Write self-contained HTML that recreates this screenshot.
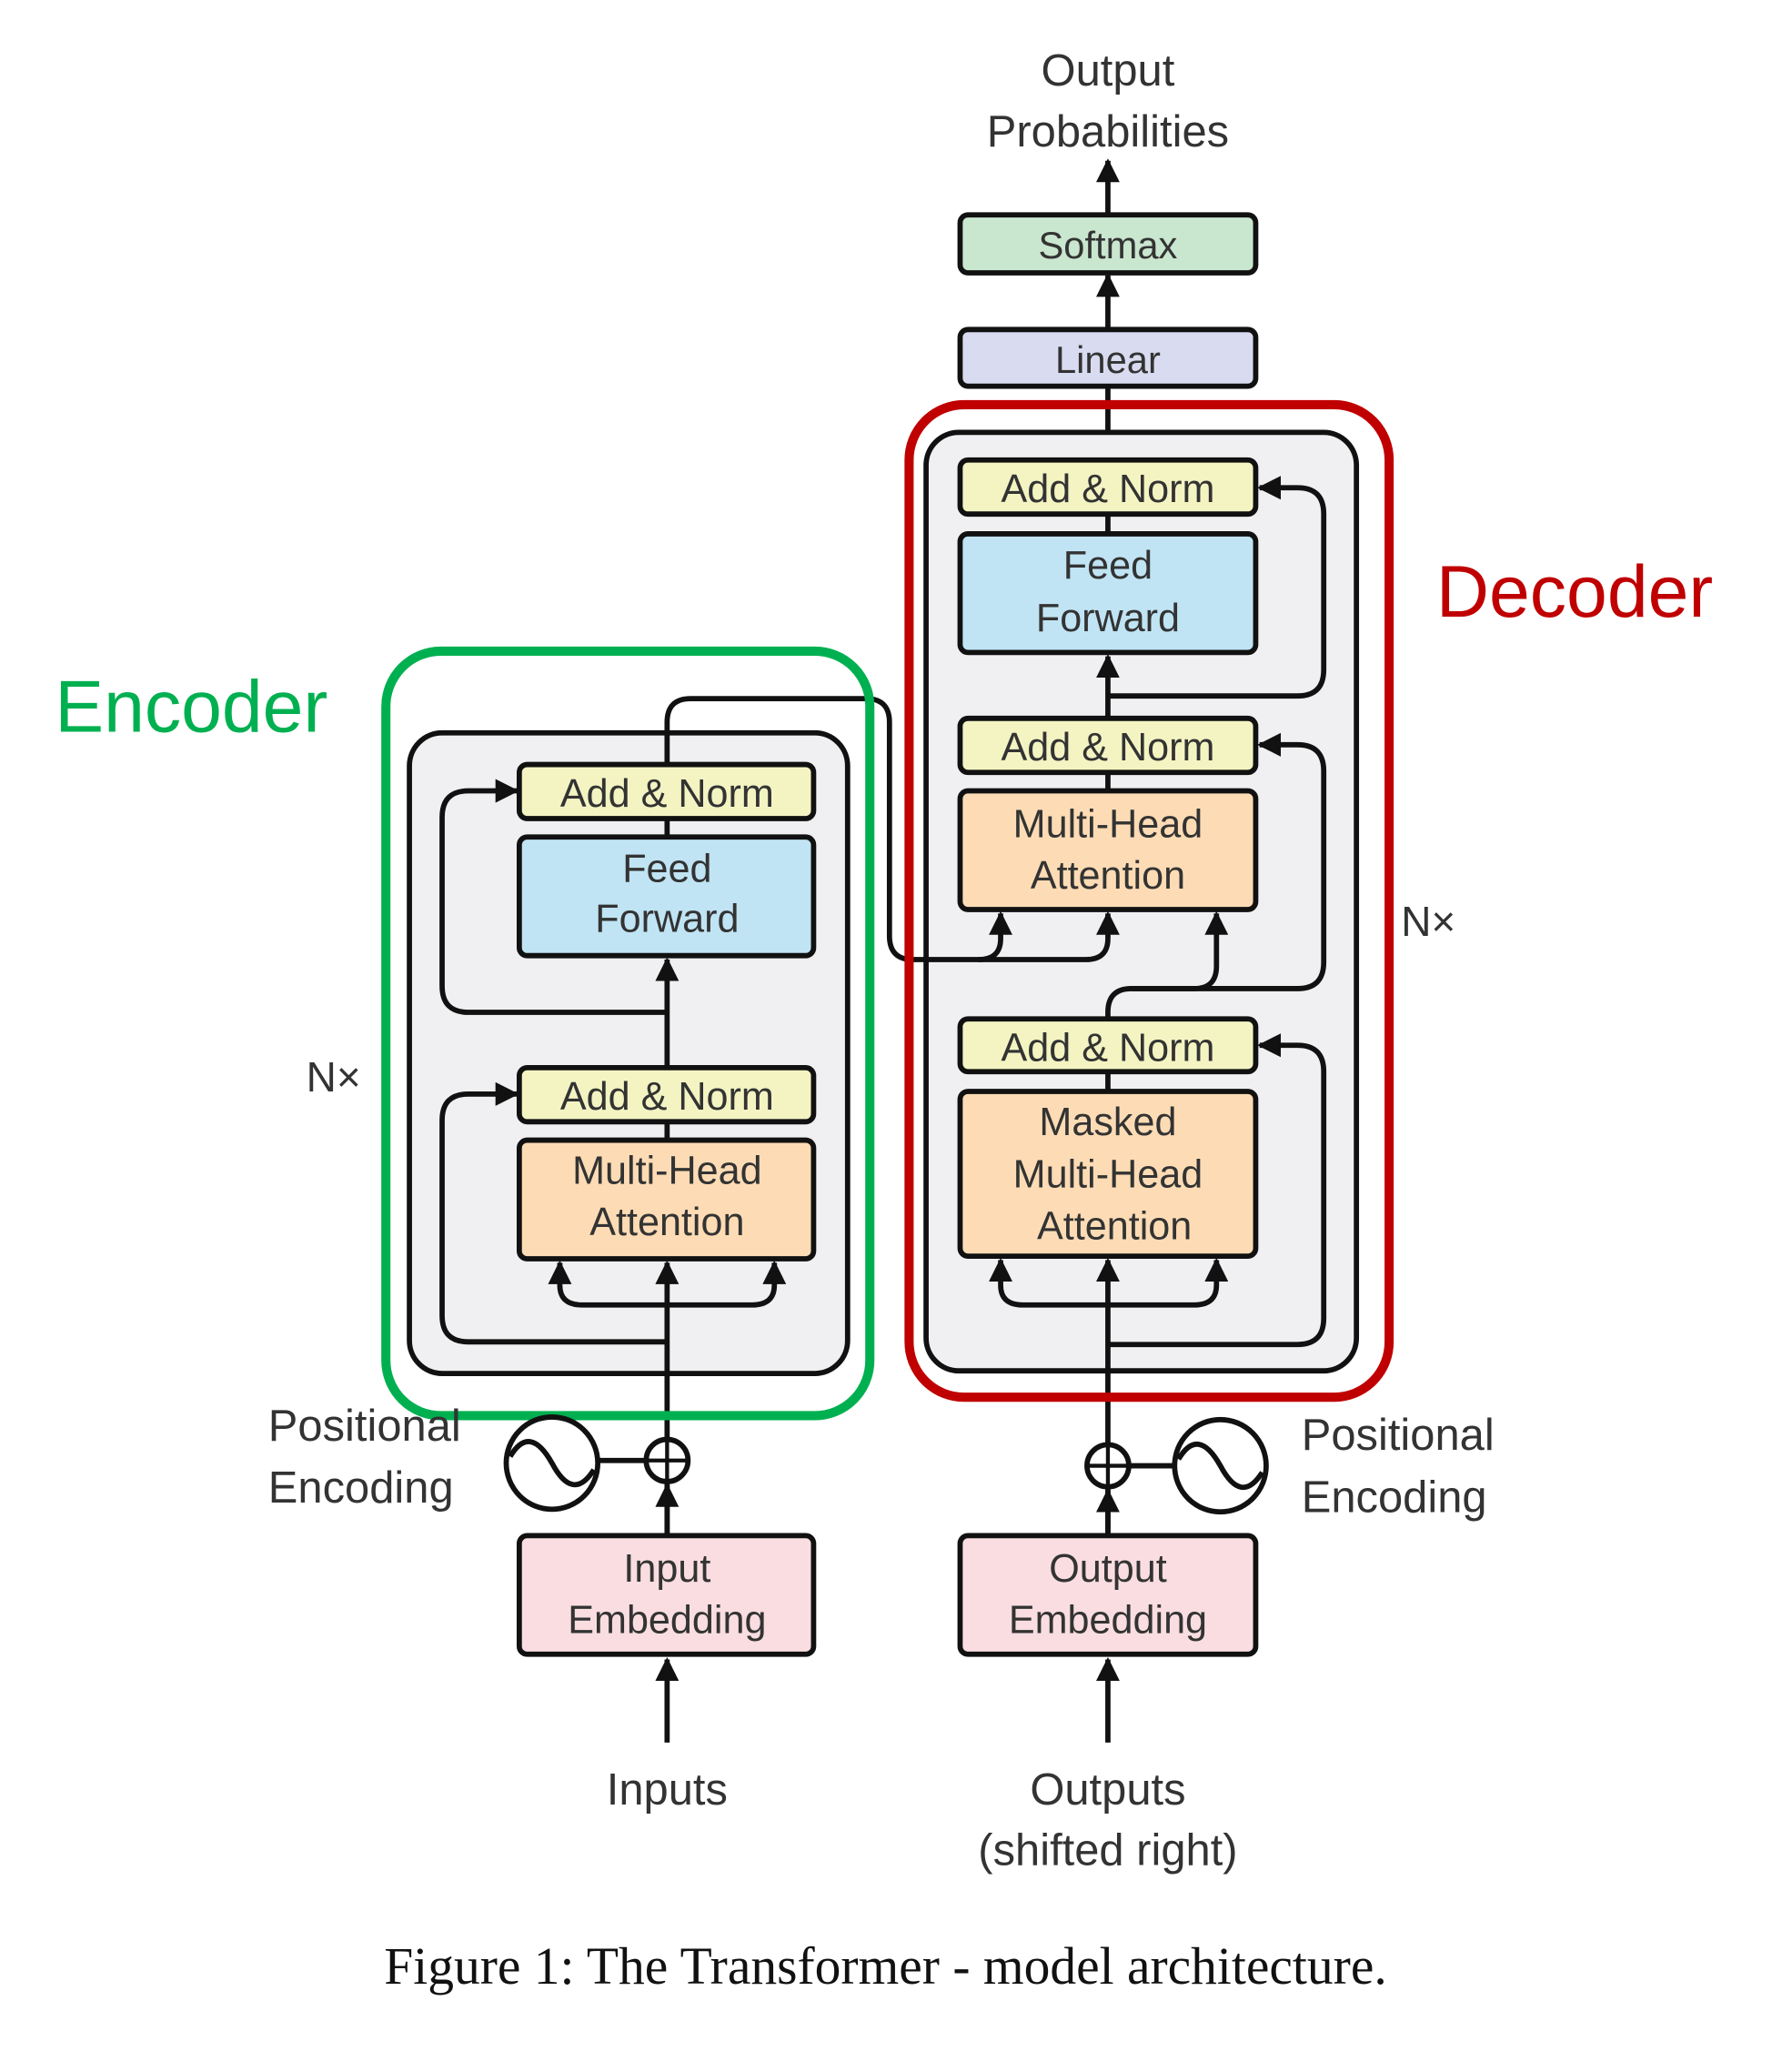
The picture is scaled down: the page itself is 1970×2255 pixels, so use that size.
<!DOCTYPE html>
<html><head><meta charset="utf-8"><style>
html,body{margin:0;padding:0;background:#fff;}
svg{display:block;}
text{font-family:"Liberation Sans",sans-serif;fill:#333;}
.b{stroke:#111;stroke-width:4;}
.l{stroke:#111;stroke-width:4;fill:none;}
</style></head><body>
<svg width="1970" height="2255" viewBox="0 0 1370 1556" preserveAspectRatio="none" xmlns="http://www.w3.org/2000/svg">
<defs>
<marker id="a" viewBox="0 0 10 10" refX="9" refY="5" markerWidth="4.5" markerHeight="4.5" orient="auto"><path d="M0,0 L10,5 L0,10 z" fill="#111"/></marker>
</defs>
<text x="847" y="65" font-size="34" text-anchor="middle">Output</text>
<text x="847" y="111" font-size="34" text-anchor="middle">Probabilities</text>
<line class="l" x1="847" y1="163" x2="847" y2="122" marker-end="url(#a)"/>
<rect class="b" x="734" y="163" width="226" height="44" rx="6" fill="#c9e6cf"/>
<text x="847" y="196" font-size="29" text-anchor="middle">Softmax</text>
<line class="l" x1="847" y1="250" x2="847" y2="209" marker-end="url(#a)"/>
<rect class="b" x="734" y="250" width="226" height="43" rx="6" fill="#d9dbf0"/>
<text x="847" y="283" font-size="29" text-anchor="middle">Linear</text>
<line class="l" x1="847" y1="293" x2="847" y2="349"/>

<rect class="b" x="708" y="328" width="329" height="712" rx="25" fill="#f0f0f2"/>
<rect class="b" x="313" y="556" width="335" height="486" rx="25" fill="#f0f0f2"/>

<line class="l" x1="510" y1="1165" x2="510" y2="958" marker-end="url(#a)"/>
<path class="l" d="M510,990 H445 Q428,990 428,975 V958" marker-end="url(#a)"/>
<path class="l" d="M510,990 H575 Q592,990 592,975 V958" marker-end="url(#a)"/>
<path class="l" d="M510,1018 H358 Q338,1018 338,998 V850 Q338,830 358,830 H395" marker-end="url(#a)"/>
<line class="l" x1="510" y1="810" x2="510" y2="728" marker-end="url(#a)"/>
<path class="l" d="M510,768 H358 Q338,768 338,748 V620 Q338,600 358,600 H395" marker-end="url(#a)"/>
<path class="l" d="M510,580 V548 Q510,530 528,530 H662 Q680,530 680,548 V710 Q680,728 698,728 H748 Q765,728 765,712 V693" marker-end="url(#a)"/>
<path class="l" d="M748,728 H830 Q847,728 847,712 V693" marker-end="url(#a)"/>

<line class="l" x1="847" y1="1165" x2="847" y2="956" marker-end="url(#a)"/>
<path class="l" d="M847,990 H782 Q765,990 765,975 V956" marker-end="url(#a)"/>
<path class="l" d="M847,990 H913 Q930,990 930,975 V956" marker-end="url(#a)"/>
<path class="l" d="M847,1020 H992 Q1012,1020 1012,1000 V813 Q1012,793 992,793 H963" marker-end="url(#a)"/>
<path class="l" d="M847,773 V768 Q847,750 865,750 H913 Q930,750 930,733 V693" marker-end="url(#a)"/>
<path class="l" d="M865,750 H992 Q1012,750 1012,730 V585 Q1012,565 992,565 H963" marker-end="url(#a)"/>
<line class="l" x1="847" y1="545" x2="847" y2="498" marker-end="url(#a)"/>
<path class="l" d="M847,528 H992 Q1012,528 1012,508 V390 Q1012,370 992,370 H963" marker-end="url(#a)"/>
<line class="l" x1="847" y1="586" x2="847" y2="600"/>
<line class="l" x1="847" y1="390" x2="847" y2="405"/>
<line class="l" x1="847" y1="813" x2="847" y2="828"/>
<line class="l" x1="510" y1="621" x2="510" y2="635"/>
<line class="l" x1="510" y1="851" x2="510" y2="865"/>

<rect class="b" x="397" y="580" width="225" height="41" rx="6" fill="#f3f4c2"/>
<text x="510" y="612" font-size="30" text-anchor="middle">Add &amp; Norm</text>
<rect class="b" x="397" y="635" width="225" height="90" rx="6" fill="#c0e4f4"/>
<text x="510" y="669" font-size="30" text-anchor="middle">Feed</text>
<text x="510" y="707" font-size="30" text-anchor="middle">Forward</text>
<rect class="b" x="397" y="810" width="225" height="41" rx="6" fill="#f3f4c2"/>
<text x="510" y="842" font-size="30" text-anchor="middle">Add &amp; Norm</text>
<rect class="b" x="397" y="865" width="225" height="90" rx="6" fill="#fddcb5"/>
<text x="510" y="898" font-size="30" text-anchor="middle">Multi-Head</text>
<text x="510" y="937" font-size="30" text-anchor="middle">Attention</text>

<rect class="b" x="734" y="349" width="226" height="41" rx="6" fill="#f3f4c2"/>
<text x="847" y="381" font-size="30" text-anchor="middle">Add &amp; Norm</text>
<rect class="b" x="734" y="405" width="226" height="90" rx="6" fill="#c0e4f4"/>
<text x="847" y="439" font-size="30" text-anchor="middle">Feed</text>
<text x="847" y="479" font-size="30" text-anchor="middle">Forward</text>
<rect class="b" x="734" y="545" width="226" height="41" rx="6" fill="#f3f4c2"/>
<text x="847" y="577" font-size="30" text-anchor="middle">Add &amp; Norm</text>
<rect class="b" x="734" y="600" width="226" height="90" rx="6" fill="#fddcb5"/>
<text x="847" y="635" font-size="30" text-anchor="middle">Multi-Head</text>
<text x="847" y="674" font-size="30" text-anchor="middle">Attention</text>
<rect class="b" x="734" y="773" width="226" height="40" rx="6" fill="#f3f4c2"/>
<text x="847" y="805" font-size="30" text-anchor="middle">Add &amp; Norm</text>
<rect class="b" x="734" y="828" width="226" height="125" rx="6" fill="#fddcb5"/>
<text x="847" y="861" font-size="30" text-anchor="middle">Masked</text>
<text x="847" y="901" font-size="30" text-anchor="middle">Multi-Head</text>
<text x="852" y="940" font-size="30" text-anchor="middle">Attention</text>

<text x="255" y="828" font-size="32" text-anchor="middle">N×</text>
<text x="1092" y="710" font-size="32" text-anchor="middle">N×</text>

<rect x="295" y="494" width="370" height="580" rx="42" fill="none" stroke="#00b050" stroke-width="7"/>
<rect x="695" y="307" width="367" height="753" rx="42" fill="none" stroke="#c00000" stroke-width="7"/>
<text x="42" y="555" font-size="56" style="fill:#00b050">Encoder</text>
<text x="1098" y="468" font-size="56" style="fill:#c00000">Decoder</text>

<text x="205" y="1093" font-size="34">Positional</text>
<text x="205" y="1140" font-size="34">Encoding</text>
<circle cx="422" cy="1110" r="35" fill="#fff" stroke="#111" stroke-width="4"/>
<path class="l" d="M390,1105 Q405,1080 422,1110 Q438,1140 454,1115"/>
<line class="l" x1="457" y1="1108" x2="494" y2="1108"/>
<circle cx="510" cy="1108" r="16" fill="#fff" stroke="#111" stroke-width="4"/>
<line class="l" x1="494" y1="1108" x2="526" y2="1108" style="stroke-width:3"/>
<line class="l" x1="510" y1="1092" x2="510" y2="1124" style="stroke-width:3"/>
<line class="l" x1="510" y1="1165" x2="510" y2="1127" marker-end="url(#a)"/>

<text x="995" y="1100" font-size="34">Positional</text>
<text x="995" y="1147" font-size="34">Encoding</text>
<circle cx="933" cy="1112" r="35" fill="#fff" stroke="#111" stroke-width="4"/>
<path class="l" d="M901,1107 Q916,1082 933,1112 Q949,1142 965,1117"/>
<line class="l" x1="863" y1="1112" x2="898" y2="1112"/>
<circle cx="847" cy="1112" r="16" fill="#fff" stroke="#111" stroke-width="4"/>
<line class="l" x1="831" y1="1112" x2="863" y2="1112" style="stroke-width:3"/>
<line class="l" x1="847" y1="1096" x2="847" y2="1128" style="stroke-width:3"/>
<line class="l" x1="847" y1="1165" x2="847" y2="1131" marker-end="url(#a)"/>

<rect class="b" x="397" y="1165" width="225" height="90" rx="6" fill="#f9dde1"/>
<text x="510" y="1200" font-size="30" text-anchor="middle">Input</text>
<text x="510" y="1239" font-size="30" text-anchor="middle">Embedding</text>
<rect class="b" x="734" y="1165" width="226" height="90" rx="6" fill="#f9dde1"/>
<text x="847" y="1200" font-size="30" text-anchor="middle">Output</text>
<text x="847" y="1239" font-size="30" text-anchor="middle">Embedding</text>
<line class="l" x1="510" y1="1322" x2="510" y2="1259" marker-end="url(#a)"/>
<line class="l" x1="847" y1="1322" x2="847" y2="1259" marker-end="url(#a)"/>
<text x="510" y="1369" font-size="34" text-anchor="middle">Inputs</text>
<text x="847" y="1369" font-size="34" text-anchor="middle">Outputs</text>
<text x="847" y="1415" font-size="34" text-anchor="middle">(shifted right)</text>

<text x="677" y="1505" font-size="40" text-anchor="middle" style="font-family:'Liberation Serif',serif;fill:#111">Figure 1: The Transformer - model architecture.</text>
</svg>
</body></html>
